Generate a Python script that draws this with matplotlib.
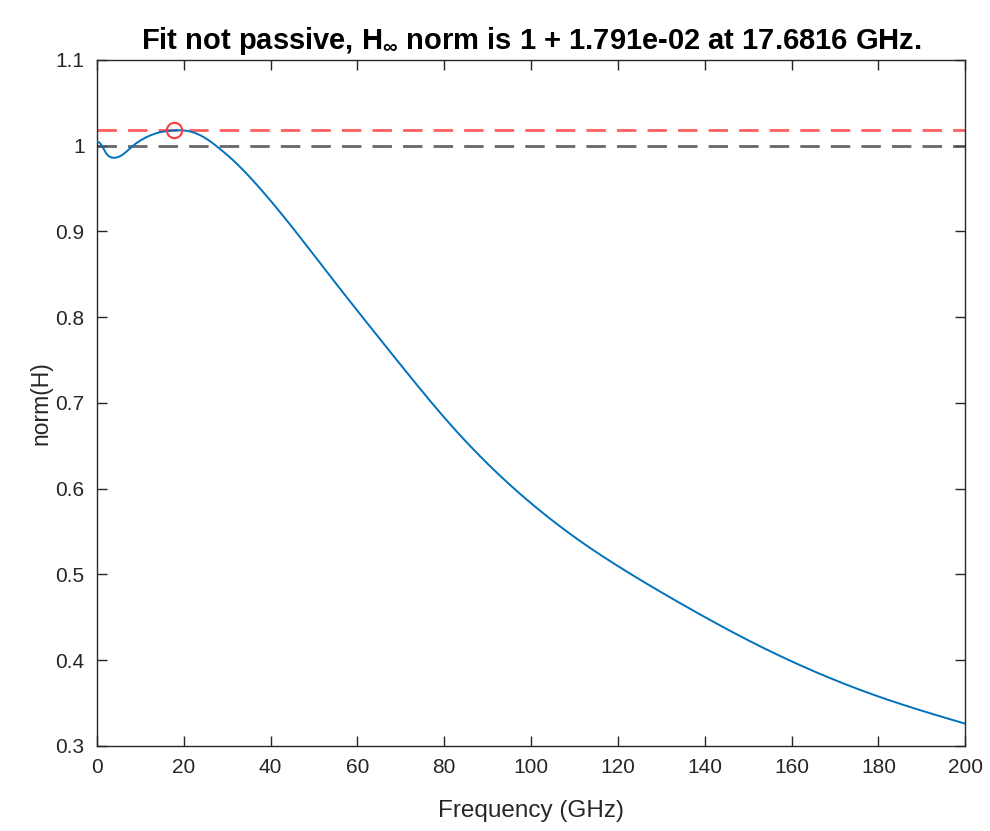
import numpy as np
from matplotlib import pyplot as plt

# curve (GHz, norm)
freq = [0, 0.7, 2, 3.7, 6, 8.3, 11, 13.8, 17.68, 21.4, 25.3, 28.3, 32, 36.0,
        43.7, 53.7, 62.9, 72.1, 80.0, 90.0, 100.0, 111.0, 122.8, 136.6,
        150.5, 180.4, 200]
norm_h = [1.005, 1.003, 0.992, 0.986, 0.990, 1.000, 1.009, 1.0148, 1.0179, 1.0167,
          1.0078, 0.9964, 0.980, 0.959, 0.913, 0.848, 0.789, 0.731, 0.683, 0.629,
          0.583, 0.540, 0.501, 0.460, 0.422, 0.357, 0.326]
peak_f = 17.6816
peak_val = 1 + 1.791e-02
yticks = [0.3, 0.4, 0.5, 0.6, 0.7, 0.8, 0.9, 1.0, 1.1]
ytick_labels = ['0.3', '0.4', '0.5', '0.6', '0.7', '0.8', '0.9', '1', '1.1']


def natural_spline(x, y, xs):
    x = np.asarray(x, float)
    y = np.asarray(y, float)
    n = len(x)
    h = np.diff(x)
    A = np.zeros((n, n))
    b = np.zeros(n)
    A[0, 0] = A[-1, -1] = 1
    for i in range(1, n - 1):
        A[i, i - 1] = h[i - 1]
        A[i, i] = 2 * (h[i - 1] + h[i])
        A[i, i + 1] = h[i]
        b[i] = 6 * ((y[i + 1] - y[i]) / h[i] - (y[i] - y[i - 1]) / h[i - 1])
    m = np.linalg.solve(A, b)
    idx = np.clip(np.searchsorted(x, xs) - 1, 0, n - 2)
    x0, x1 = x[idx], x[idx + 1]
    hh = x1 - x0
    t0, t1 = x1 - xs, xs - x0
    return (m[idx] * t0 ** 3 / (6 * hh) + m[idx + 1] * t1 ** 3 / (6 * hh)
            + (y[idx] / hh - m[idx] * hh / 6) * t0
            + (y[idx + 1] / hh - m[idx + 1] * hh / 6) * t1)


plt.rcParams['font.family'] = ['Liberation Sans', 'DejaVu Sans']
plt.rcParams['mathtext.fontset'] = 'custom'
plt.rcParams['mathtext.rm'] = 'Liberation Sans:bold'
plt.rcParams['mathtext.it'] = 'Liberation Sans:bold'
plt.rcParams['mathtext.bf'] = 'Liberation Sans:bold'

fig = plt.figure(figsize=(9.9, 8.31), dpi=100)
ax = fig.add_axes([0.098, 0.1023, 0.877, 0.8255])

xs = np.linspace(0, 200, 1000)
ax.plot(xs, natural_spline(freq, norm_h, xs), color='#0072BD', lw=1.4, zorder=3)

ax.axhline(1, color='#4d4d4d', lw=2, ls=(0, (7, 4)), alpha=0.85)
ax.axhline(peak_val, color='#ff4d4d', lw=2, ls=(0, (7, 4)), alpha=0.9)
ax.plot([peak_f], [peak_val], 'o', mfc='none', mec='#ff3b3b', ms=11, mew=1.5, zorder=4)

ax.set_xlim(0, 200)
ax.set_ylim(0.3, 1.1)
ax.set_xticks(np.arange(0, 201, 20))
ax.set_yticks(yticks)
ax.set_yticklabels(ytick_labels)
ax.tick_params(direction='in', length=7, width=1, colors='#262626', labelsize=15,
               top=True, right=True, pad=9)
for s in ax.spines.values():
    s.set_color('#262626')
    s.set_linewidth(1)

ax.set_xlabel('Frequency (GHz)', fontsize=17.5, color='#262626', labelpad=16)
ax.set_ylabel('norm(H)', fontsize=16.5, color='#262626', labelpad=2)
ax.set_title(r'Fit not passive, H$_{\infty}$ norm is 1 + 1.791e-02 at 17.6816 GHz.',
             fontsize=21, fontweight='bold', color='black', pad=8)

fig.savefig('out.png', dpi=100)
